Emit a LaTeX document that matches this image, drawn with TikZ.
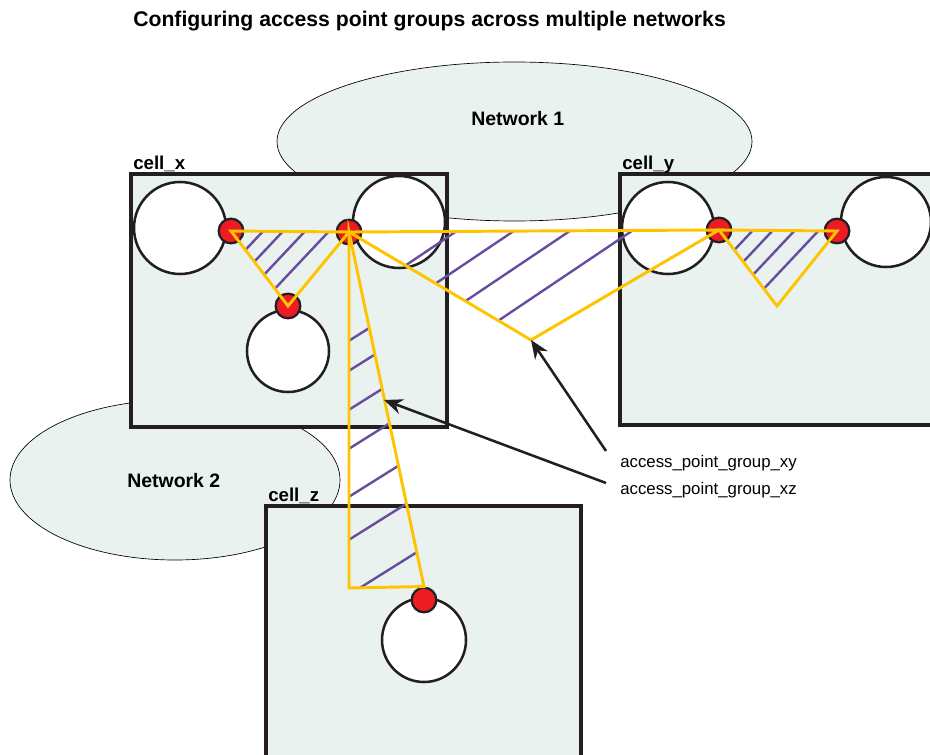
\documentclass[tikz,border=0pt]{standalone}
\usepackage{fontspec}
\setmainfont{Liberation Sans}
\usepackage{tikz}
\usetikzlibrary{arrows.meta}
\definecolor{cellfill}{RGB}{233,242,239}
\definecolor{apred}{RGB}{237,28,36}
\definecolor{apgold}{RGB}{255,196,0}
\definecolor{aphatch}{RGB}{104,76,160}
\definecolor{inkline}{RGB}{35,31,32}

\begin{document}
\begin{tikzpicture}[x=0.75pt,y=-0.75pt,
  cell/.style={fill=cellfill,draw=inkline,line width=2.4pt},
  net/.style={fill=cellfill,draw=black,line width=0.5pt},
  ap/.style={fill=white,draw=inkline,line width=1.9pt},
  apdot/.style={circle,minimum size=18.5pt,fill=apred,draw=inkline,line width=1.7pt},
  group/.style={draw=apgold,line width=2.2pt},
  hatchline/.style={draw=aphatch,line width=1.8pt},
  pointer/.style={draw=inkline,line width=1.9pt,-{Stealth[length=14pt,width=11.5pt]}},
  lbl/.style={font=\fontsize{14}{16}\selectfont\bfseries,anchor=base west},
  callout/.style={font=\fontsize{12.6}{15}\selectfont,anchor=base west}]
\useasboundingbox (0,0) rectangle (930,755);
\tikzstyle{every node}+=[inner sep=0pt]
\node[lbl,font=\fontsize{15.9}{19}\selectfont\bfseries] (title) at (133,27) {Configuring access point groups across multiple networks};
\draw[net] (514.5,141.5) ellipse [x radius=237.5, y radius=79.5];
\draw[net] (175,480) ellipse [x radius=165, y radius=80];
\node[lbl,font=\fontsize{14.6}{17}\selectfont\bfseries] (net1) at (471,126) {Network 1};
\node[lbl,font=\fontsize{14.6}{17}\selectfont\bfseries] (net2) at (127,487) {Network 2};
\draw[cell] (131,174) rectangle (447,427);
\draw[cell] (620,174) rectangle (945,425);
\draw[cell] (266,506) rectangle (581,775);
\node[lbl] (cellx) at (133,170) {cell\_x};
\node[lbl] (celly) at (622,170) {cell\_y};
\node[lbl] (cellz) at (268,501) {cell\_z};
\draw[ap] (180,228) circle (46);
\draw[ap] (399,222) circle (46);
\draw[ap] (288,351) circle (41);
\draw[ap] (668,228) circle (46);
\draw[ap] (886,222) circle (45);
\draw[ap] (424,640) circle (42);
\node[apdot] (apx1) at (231,231) {};
\node[apdot] (apx2) at (349,232) {};
\node[apdot] (apx3) at (288,306) {};
\node[apdot] (apy1) at (719,230) {};
\node[apdot] (apy2) at (837,231) {};
\node[apdot] (apz1) at (424,600) {};
\coordinate (xyb) at (531,340);
\coordinate (yyb) at (777,306);
\coordinate (xzb) at (349,588);
\begin{scope}
\clip (apx1.center) -- (apx2.center) -- (apx3.center) -- cycle;
\foreach \hx in {263,283,305,329}
  \draw[hatchline] (\hx-60,295) -- (\hx+20,210);
\end{scope}
\begin{scope}
\clip (apy1.center) -- (apy2.center) -- (yyb) -- cycle;
\foreach \hx in {752,772,794,818}
  \draw[hatchline] (\hx-60,295) -- (\hx+20,210);
\end{scope}
\begin{scope}
\clip (apx2.center) -- (apy1.center) -- (xyb) -- cycle;
\foreach \hx in {458,515,571,633}
  \draw[hatchline] (\hx-150,331) -- (\hx+30,210);
\end{scope}
\begin{scope}
\clip (apx2.center) -- (xzb) -- (apz1.north) -- cycle;
\foreach \hy in {341,371,410,449,497,540,595}
  \draw[hatchline] (339,\hy+6) -- (449,\hy-63);
\end{scope}
\draw[group] (apx1.center) -- (apx2.center) -- (apx3.center) -- cycle;
\draw[group] (apy1.center) -- (apy2.center) -- (yyb) -- cycle;
\draw[group] (apx2.center) -- (apy1.center) -- (xyb) -- cycle;
\draw[group] (apx2.center) -- (xzb) -- (apz1.north) -- cycle;
\node[callout] (groupxy) at (620,467) {access\_point\_group\_xy};
\node[callout] (groupxz) at (620,494) {access\_point\_group\_xz};
\coordinate (xytail) at (606,451);
\coordinate (xztail) at (606,483);
\coordinate (xzmark) at (384,400);
\draw[pointer] (xytail) -- (xyb);
\draw[pointer] (xztail) -- (xzmark);
\end{tikzpicture}
\end{document}
